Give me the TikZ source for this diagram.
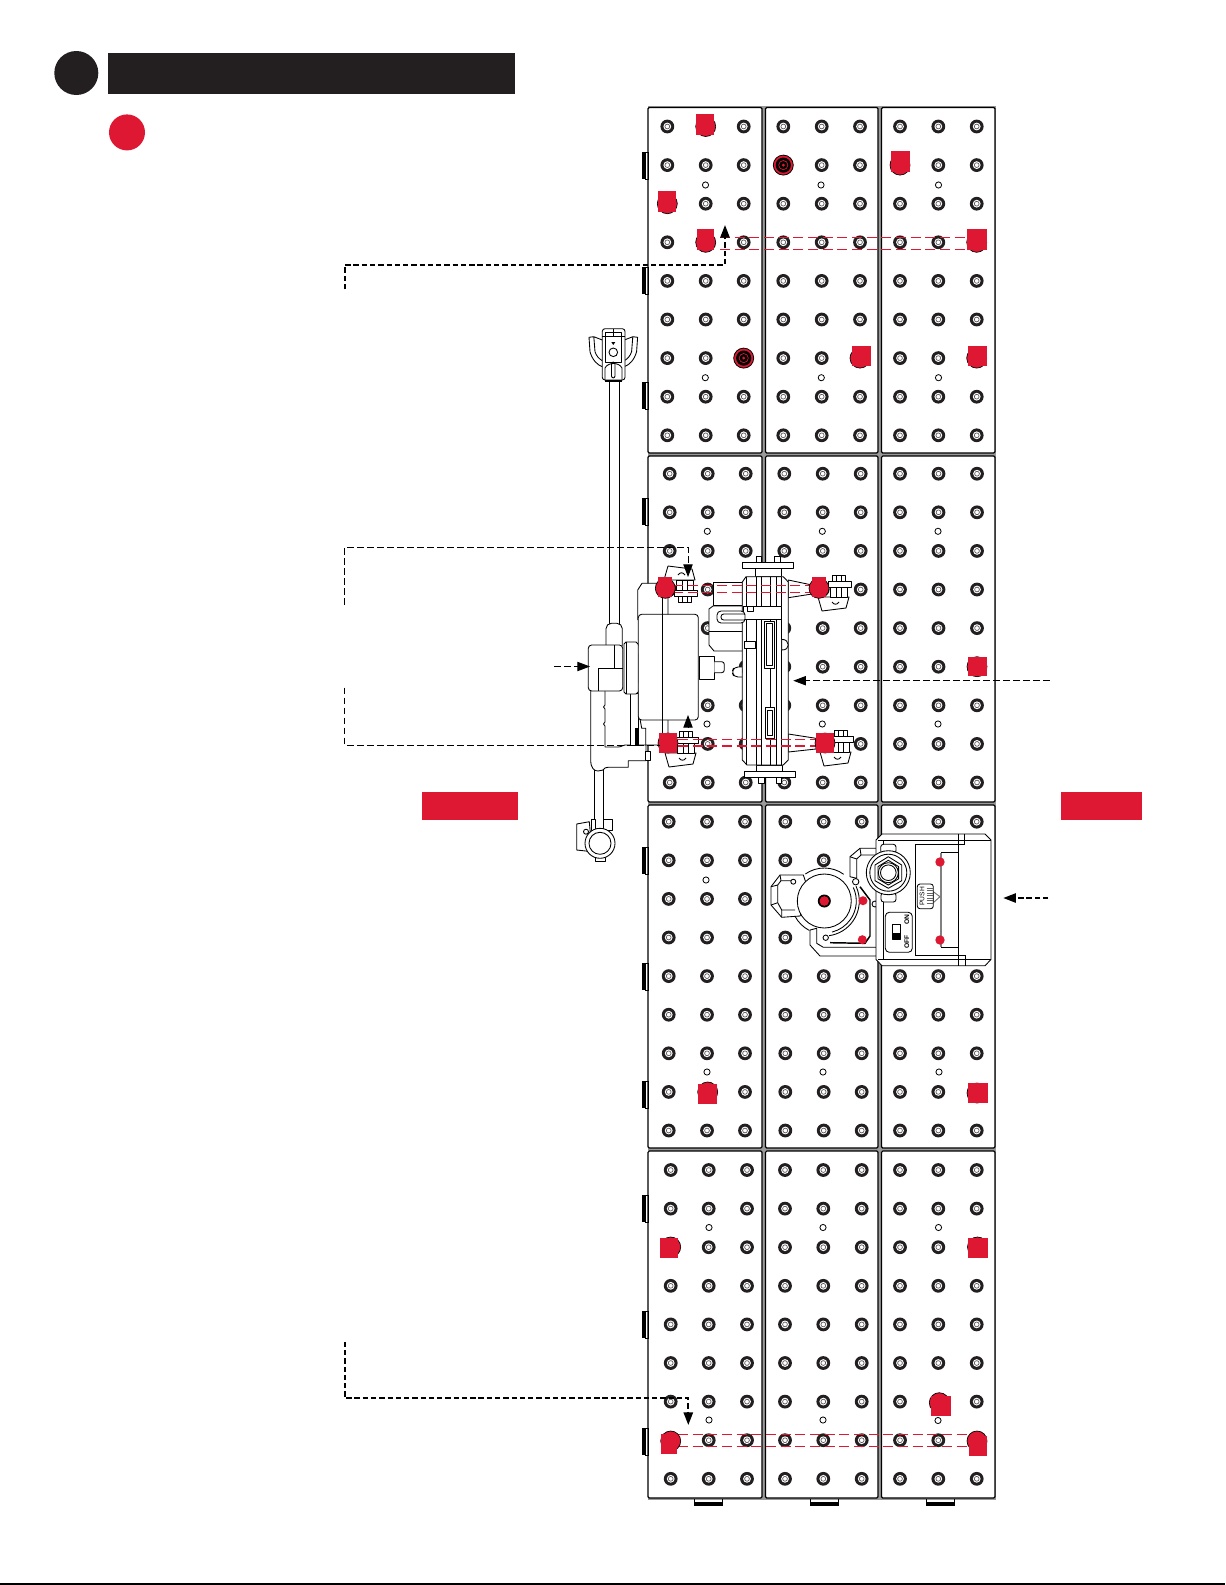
\documentclass[tikz,border=0pt]{standalone}
\usepackage{fontspec}
\usepackage{xcolor}
\usepackage{tikz}
\usetikzlibrary{arrows.meta}
\setmainfont{Liberation Sans}
\definecolor{pinred}{RGB}{222, 24, 51}
\definecolor{headdark}{RGB}{35, 31, 32}
\tikzset{
  panelcell/.style={draw=black, fill=white, line width=0.9pt, rounded corners=1pt},
  gadget/.style={draw=black, fill=white, line width=0.65pt, line join=round},
  gadgetline/.style={draw=black, line width=0.65pt, line join=round},
  reddash/.style={draw=pinred, line width=0.8pt, dash pattern=on 7.5pt off 3.5pt},
  leadthick/.style={draw=black, line width=1.3pt, dash pattern=on 4pt off 2.2pt, -{Triangle[length=9.5pt,width=7pt]}},
  leadthin/.style={draw=black, line width=0.7pt, dash pattern=on 5pt off 2.5pt, -{Triangle[length=9.5pt,width=7pt]}},
  clampset/.pic={
    \draw[gadget] (-20,7) -- (11,7) -- (8,18) -- (-16,21) -- cycle;
    \draw[gadgetline] (-6,12) .. controls (-4,15) and (-1,15) .. (1,12);
    \draw[gadget] (-6,-15) rectangle (7,-9);
    \draw[gadgetline] (-2,-15) -- (-2,-9) (3,-15) -- (3,-9);
    \draw[gadget] (-8,-3) rectangle (9,7);
    \draw[gadgetline] (-2,-3) -- (-2,7) (3,-3) -- (3,7);
    \draw[gadget] (-10,-9) rectangle (13,-3);
  }
}
% one screw of a panel
\newcommand{\screwhole}[2]{
  \fill[headdark] (#1,#2) circle (6.9);
  \fill[white] (#1,#2) circle (3.9);
  \draw[black!65, line width=0.5pt] (#1,#2) circle (2.4);
}
% marker: disc under a red block
\newcommand{\redpin}[6]{
  \fill[pinred, draw=black, line width=0.5pt] (#1,#2) circle (10);
  \fill[pinred] (#3,#4) rectangle (#5,#6);
}
\begin{document}
\begin{tikzpicture}[x=0.75pt, y=-0.75pt]
\useasboundingbox (0,0) rectangle (1225,1585);
% header
\fill[headdark] (76.3,73) circle (22);
\fill[headdark] (108,53) rectangle (515,93.7);
\fill[pinred] (127,132.4) circle (18);
\fill[pinred] (421.6,791.7) rectangle (517.7,820);
\fill[pinred] (1061,791.7) rectangle (1142,820);
\fill[black] (0,1583.3) rectangle (1225,1585);
% panels
\fill[black!40] (648,106) rectangle (996,1499.5);
\foreach \ya/\yb in {107.5/453, 456/802, 805/1148, 1151/1498}
  \foreach \xa/\xb in {648/762, 765.5/878, 881.5/995}
    \draw[panelcell] (\xa,\ya) rectangle (\xb,\yb);
% tabs
\foreach \y in {152.3,267,382.3,498.3,847.3,963,1081,1195,1311,1428} {
  \fill[black] (641.7,\y) rectangle (645.2,\y+27);
  \draw[black, line width=0.6pt] (645.2,\y) rectangle (648,\y+27);
}
\foreach \x in {694.3,810.3,926.3} {
  \fill[black] (\x,1501.5) rectangle (\x+28.4,1505.7);
  \draw[black, line width=0.6pt] (\x,1499) -- (\x,1501.5) (\x+28.4,1499) -- (\x+28.4,1501.5);
}
% screws
\foreach \ytop/\xlist in {
  126.5/{667.3,705.7,743.7,783.3,821.7,860,900,938.3,976.7},
  473.7/{669.7,707.7,745.7,784.3,822.7,860.7,900,938.5,977},
  821.7/{668.7,707,745,785.3,823.7,861.7,900,938.3,976.7},
  1170/{670.7,708.7,747,785,823.3,861.7,900,938.3,976.7}} {
  \foreach \i in {0,...,8} {
    \pgfmathsetmacro{\yy}{\ytop+38.6*\i}
    \foreach \x in \xlist {
      \screwhole{\x}{\yy}
    }
  }
}
\foreach \x/\y in {705.5/185,821/185,938.5/185,705.3/377.7,821.3/377.7,938.5/377.7,
  707.3/531.3,822.3/531.3,938/531.3,707/724,822.3/724,938/724,
  706/880,707/1072,823/1072,939/1072,709/1227.5,823/1227.5,938.5/1227.5,709/1420,823/1420,938/1420.5}
  \draw[black, fill=white, line width=0.6pt] (\x,\y) circle (3.1);
% pole
\draw[gadget] (609.3,378) rectangle (619.3,626);
\draw[gadget] (594.3,765) rectangle (603.3,830);
\foreach \m in {1,-1}
  \draw[gadgetline, shift={(613.3,0)}, xscale=\m] (-11,340) -- (-19.5,336.7) -- (-24.3,337.3) -- (-23.3,351.7) .. controls (-21,360) and (-16,365) .. (-11,366.7)
    (-19.5,336.7) -- (-18.3,351.7) .. controls (-17,356) and (-14,359) .. (-11,360.7);
\draw[gadget, rounded corners=2pt] (602.3,328.7) rectangle (625,380);
\draw[gadgetline] (605.7,332) rectangle (621,362) (602.3,336.7) -- (625,336.7) (613.3,328.7) -- (613.3,336.7);
\draw[gadgetline] (613.3,352.3) circle (4.3);
\fill[black] (611.3,342) -- (615.3,342) -- (613.3,345) -- cycle;
\draw[gadgetline] (605,380) -- (605,368) .. controls (608,362) and (619,362) .. (622,368) -- (622,380);
\draw[gadgetline, rounded corners=1.5pt] (611.5,362) rectangle (615,378);
\fill[black] (605,380) rectangle (622,382);
% clamp of the pole
\draw[gadget] (576.7,824) -- (589.3,821.7) -- (592,851.7) -- (576.7,850) -- cycle;
\draw[gadget] (591.7,819.3) rectangle (595,830);
\draw[gadget] (603.3,819.3) rectangle (612.3,830);
\draw[gadget] (595,856) rectangle (605,861);
\draw[gadget] (600,843.3) circle (15);
\draw[gadgetline] (600,843.3) circle (11);
\draw[gadget] (586,831.7) circle (2.5);
% coupling on the pole
\draw[gadget] (590.7,689) -- (590.7,760) .. controls (590.7,768) and (594,771) .. (598,771) -- (603,770) .. controls (604,768) and (606,767.3) .. (608,767.3) -- (628.3,767.3) -- (628.3,760.7) -- (646,760.7) -- (646,745) -- (625,745) .. controls (622,745) and (622,747) .. (618,747) -- (605,747) -- (605,726) -- (603.5,724) -- (605,722) -- (605,709) -- (603.5,707) -- (605,705) -- (605,689) -- cycle;
\draw[gadget] (630.7,693) rectangle (638.3,745);
\fill[black] (635.2,728) rectangle (637.6,745);
\draw[gadget] (645,751.7) rectangle (650.7,760.7);
\draw[gadget, rounded corners=4pt] (606,646) -- (606,623.3) -- (622.3,623.3) -- (622.3,646);
\draw[gadget, rounded corners=2.5pt] (588.3,645) rectangle (622.7,691);
\draw[gadgetline] (614.7,645) -- (614.7,668.3) (598.3,691) -- (598.3,668.3) -- (622.7,668.3);
\draw[gadget] (626,642) -- (636,642) .. controls (640,645) and (641,650) .. (639,655) -- (639,682) .. controls (641,686) and (640,692) .. (636,694) -- (626,694) -- (624,692) -- (624,644) -- cycle;
\draw[gadgetline] (626.5,642) -- (626.5,694);
% drive box
\draw[gadget] (637.7,620) -- (637.7,590) -- (642,583.3) -- (668,583.3) -- (668,620);
\draw[gadget] (639.3,715) -- (641.7,728.3) -- (645.7,728.3) -- (645.7,745) -- (668,745) -- (668,715);
\draw[gadget] (699,656) rectangle (714.3,679.3);
\draw[gadget, rounded corners=2pt] (714.3,661.7) -- (724.3,661.7) -- (724.3,672.7) -- (714.3,672.7);
\draw[gadget, rounded corners=2.5pt] (638.3,614.3) rectangle (698.3,720);
\draw[gadgetline] (662.3,583) -- (662.3,735);
% bolts on the panel
\pic (clampnw) [yscale=-1] at (684,587) {clampset};
\pic (clampsw) at (685,746) {clampset};
\pic (clampne) at (838,590) {clampset};
\pic (clampse) at (840,745) {clampset};
% roller
\draw[gadget] (788.3,580) -- (812,585) -- (812,594) -- (788.3,597.7) -- cycle;
\draw[gadget] (788.3,734) -- (816,738.3) -- (816,749) -- (788.3,752) -- cycle;
\draw[gadget, rounded corners=3pt] (742,667) -- (734,667) -- (732,672) -- (734,677) -- (742,677);
\draw[gadget] (713,605) -- (713,582) -- (742.3,582) -- (742.3,605) -- cycle;
\draw[gadget] (713,606) -- (709,609) -- (709,645) -- (714,651) -- (743,651) -- (743,606) -- cycle;
\draw[gadgetline] (709,631.7) -- (744,631.7);
\draw[gadget] (755,568.3) rectangle (781.7,576.7);
\draw[gadget] (756,765) rectangle (782.7,771.7);
\draw[gadget] (746,576.7) -- (783.3,576.7) -- (788.3,582) -- (788.3,760) -- (783.3,765) -- (747,765) -- (742.3,760) -- (742.3,582) -- cycle;
\foreach \x in {746.7,756,761.7,770,776,781.7}
  \draw[gadgetline] (\x,577) -- (\x,765);
\draw[gadget] (743,606) rectangle (781.7,619);
\draw[gadget, rounded corners=3pt] (717,611) rectangle (745,623);
\draw[gadget] (747.3,606) rectangle (753.3,611.7);
\draw[gadgetline, rounded corners=2pt] (745,614) -- (721,614) -- (721,620) -- (745,620);
\draw[gadget] (744.3,641) rectangle (755,648.3);
\draw[gadget] (781.7,639.3) .. controls (786,639.3) and (788.3,642) .. (788.3,645) .. controls (788.3,648) and (786,650) .. (781.7,650) -- cycle;
\draw[gadget] (764.7,621) rectangle (774,668.3);
\draw[gadgetline] (766.7,623.3) rectangle (772,665.7);
\draw[gadget] (765.3,707.7) rectangle (774.7,738.3);
\draw[gadgetline] (767.3,710.7) rectangle (772.7,735.7);
\draw[gadget] (756,556.7) rectangle (761.7,562.3);
\draw[gadget] (774,556.7) rectangle (780,562.3);
\draw[gadget] (742.3,562.3) rectangle (793.3,568.3);
\draw[gadget] (758.3,777) rectangle (764,783.3);
\draw[gadget] (776,777) rectangle (781.7,783.3);
\draw[gadget] (744.3,771.7) rectangle (795.3,777);
% reel unit
\fill[white] (850,848) -- (878,848) -- (878,947) -- (816,947) -- (812,925) -- (850,880) -- cycle;
\draw[gadget] (803.3,875) -- (780,875) -- (771,886.7) -- (771,905) -- (781.7,917.3) -- (800,916) -- (810,895) -- cycle;
\draw[gadgetline] (791.7,880.7) -- (781,880.7) -- (777.7,885) -- (777.7,902.7) -- (781.7,910) -- (795,910);
\draw[gadgetline] (781,880.7) -- (780,875) (777.7,885) -- (771,886.7) (777.7,902.7) -- (771,905) (781.7,910) -- (781.7,917.3);
\draw[gadget] (810,930) -- (810,945) -- (820,956) -- (876.7,956) -- (876.7,947.3) -- (823.3,947.3) -- (816.7,943.3) -- (816.7,928.3) -- cycle;
\draw[gadget] (850,876.7) -- (850,856.7) -- (860,848.3) -- (876.7,848.3) -- (876.7,855) -- (861,855) -- (856.7,859) -- (856.7,878.3) -- cycle;
\draw[gadgetline] (850,856.7) -- (856.7,859) (860,848.3) -- (861,855);
\draw[black, line width=1.1pt, line join=round] (860,886.7) -- (870,900) -- (870,936) -- (865,943.3) -- (830,942.7);
\draw[gadgetline] (824.3,901) ++(-125:33) arc[start angle=-125, end angle=-54, radius=33];
\draw[gadgetline] (824.3,901) ++(152:33) arc[start angle=152, end angle=117, radius=33];
\draw[gadgetline] (824.3,901) ++(-25:35) arc[start angle=-25, end angle=82, radius=35];
\draw[gadgetline] (824.3,901) ++(-25:32) arc[start angle=-25, end angle=76, radius=32];
\draw[gadget] (824.3,901) circle (27);
\draw[gadget] (793.3,881.7) circle (2.5);
\draw[gadget] (825.7,937.7) circle (2.7);
\draw[gadget] (855.7,881.7) circle (3.2);
\draw[gadget] (875,904) circle (3);
\fill[black] (824.3,901) circle (6.5);
\foreach \x/\y/\r in {824.3/901/4.8,863/900.7/4.5,862.3/939.7/4.5}
  \fill[pinred] (\x,\y) circle (\r);
% switch box
\draw[gadget] (882,834) -- (985,834) -- (991,840) -- (991,959.5) -- (985,965.7) -- (882,965.7) -- (876,959.5) -- (876,840) -- cycle;
\draw[gadgetline] (878,840.7) -- (991,840.7) (878,959.3) -- (991,959.3) (883.3,841) -- (883.3,959);
\draw[black, line width=0.9pt] (964.3,834) -- (964.3,844.3) -- (915.7,844.3) -- (915.7,955.3) -- (965.7,955.3) -- (965.7,965.7);
\draw[black, line width=0.9pt] (958.3,834) -- (958.3,965.7);
\draw[draw=black, line width=0.65pt, rounded corners=2pt] (941,852.7) -- (958,852.7) (958,947.3) -- (941,947.3);
\draw[black!50, line width=1.1pt] (941,853) -- (941,947);
\foreach \y in {862,940}
  \fill[pinred] (940,\y) circle (4.7);
% push catch
\draw[black!55, fill=white, line width=0.7pt] (933.3,891.7) -- (940,896.7) -- (933.3,902.7) -- cycle;
\draw[gadget, rounded corners=2pt] (917.3,884) rectangle (933.3,908.7);
\foreach \y in {888,890.5,893,895.5,898,900.5,903}
  \draw[black!60, line width=0.6pt] (926.5,\y) -- (933.3,\y);
\node[rotate=90, font=\fontsize{5}{5}\selectfont, inner sep=0pt] (pushlabel) at (922,896.3) {PUSH};
% nut
\draw[gadget, rounded corners=2pt] (880.7,844.3) rectangle (896,853.3);
\draw[gadget, rounded corners=2pt] (881,892.7) rectangle (896,902);
\draw[gadget] (888.3,872.7) circle (22);
\draw[gadgetline] (888.3,872.7) circle (18.5);
\draw[gadgetline] (888.3,856.7) -- (901.7,865) -- (901.7,880.7) -- (888.3,888.3) -- (875,880.7) -- (875,865) -- cycle;
\draw[gadgetline] (888.3,860.3) -- (898.6,866.6) -- (898.6,878.8) -- (888.3,885) -- (878,878.8) -- (878,866.6) -- cycle;
\draw[gadgetline] (888.3,872.7) circle (10);
\draw[gadgetline] (888.3,872.7) circle (7.8);
% switch
\draw[gadget, rounded corners=3pt] (885.3,912.3) rectangle (912.3,952.3);
\draw[gadgetline] (892,924) rectangle (900.7,939.3);
\fill[black] (892,932.5) rectangle (900.7,939.3);
\node[rotate=90, font=\fontsize{5}{5}\bfseries\selectfont, inner sep=0pt] (onlabel) at (906.7,919.3) {ON};
\node[rotate=90, font=\fontsize{5}{5}\bfseries\selectfont, inner sep=0pt] (offlabel) at (906.7,942.3) {OFF};
% red guides
\foreach \xa/\xb/\ya/\yb in {720/968/237.3/249.3, 673/812/585.3/592.3, 678/817/739.3/746, 678/970/1434.3/1446.3}
  \draw[reddash] (\xa,\ya) -- (\xb,\ya) (\xa,\yb) -- (\xb,\yb);
% red markers
\redpin{705.7}{126.5}{696}{114}{714}{135}
\redpin{667.3}{203.7}{658.2}{191}{676}{211.7}
\redpin{705.7}{242.3}{697}{229}{714}{250}
\redpin{900}{165.1}{891}{151}{910}{172}
\redpin{976.7}{242.3}{967}{229}{987}{250}
\redpin{860}{358.1}{852}{346}{871}{365.7}
\redpin{976.7}{358.1}{968}{346}{987}{366}
\redpin{665.3}{588.3}{658}{577}{672}{597.3}
\redpin{819}{588.3}{812}{577}{826}{597.3}
\redpin{668}{743}{659}{733}{676.7}{752.7}
\redpin{825}{743}{816}{733}{834}{752.7}
\redpin{977}{666.7}{968}{657}{987}{676}
\redpin{707.7}{1092}{698}{1084}{717}{1104}
\redpin{977}{1093}{968}{1083}{988}{1103}
\redpin{670.7}{1247}{660}{1238}{678}{1258}
\redpin{977.5}{1247}{968}{1238}{988}{1258}
\redpin{939.3}{1402.7}{931}{1396}{951}{1415.7}
\redpin{670.7}{1441}{661}{1434}{677}{1453.7}
\redpin{977}{1441}{969}{1436}{987}{1456}
% ringed screws
\foreach \x/\y in {783.3/165.1, 743.7/358.1} {
  \fill[pinred, draw=black, line width=0.6pt] (\x,\y) circle (10);
  \fill[black] (\x,\y) circle (7.6);
  \draw[pinred, line width=0.5pt] (\x,\y) circle (4.6);
  \fill[pinred] (\x,\y) circle (1.6);
}
% leaders
\coordinate (topstart) at (345,289.3);
\coordinate (topcorner) at (345,264.7);
\coordinate (topbend) at (725,264.7);
\coordinate (toptip) at (725,225);
\draw[leadthick] (topstart) -- (topcorner) -- (topbend) -- (toptip);
\coordinate (upstart) at (344.8,604.6);
\coordinate (upcorner) at (344.8,547);
\coordinate (upbend) at (688,547);
\coordinate (uptip) at (688,577);
\draw[leadthin] (upstart) -- (upcorner) -- (upbend) -- (uptip);
\coordinate (lowstart) at (344.8,687.6);
\coordinate (lowcorner) at (344.8,745.5);
\coordinate (lowend) at (660,745.5);
\draw[draw=black, line width=0.7pt, dash pattern=on 5pt off 2.5pt] (lowstart) -- (lowcorner) -- (lowend);
\coordinate (lowbase) at (688,728);
\coordinate (lowtip) at (688,715);
\draw[leadthin] (lowbase) -- (lowtip);
\coordinate (polestart) at (554,666.5);
\coordinate (poletip) at (590,666.5);
\draw[leadthin] (polestart) -- (poletip);
\coordinate (rollerstart) at (1049.6,680.7);
\coordinate (rollertip) at (793.3,680.7);
\draw[leadthin] (rollerstart) -- (rollertip);
\coordinate (boxstart) at (1048.3,898);
\coordinate (boxtip) at (1003.3,898);
\draw[leadthick] (boxstart) -- (boxtip);
\coordinate (endstart) at (344.8,1341.8);
\coordinate (endcorner) at (344.8,1398.3);
\coordinate (endbend) at (688.3,1398.3);
\coordinate (endtip) at (688.3,1425);
\draw[leadthick] (endstart) -- (endcorner) -- (endbend) -- (endtip);
\end{tikzpicture}
\end{document}
